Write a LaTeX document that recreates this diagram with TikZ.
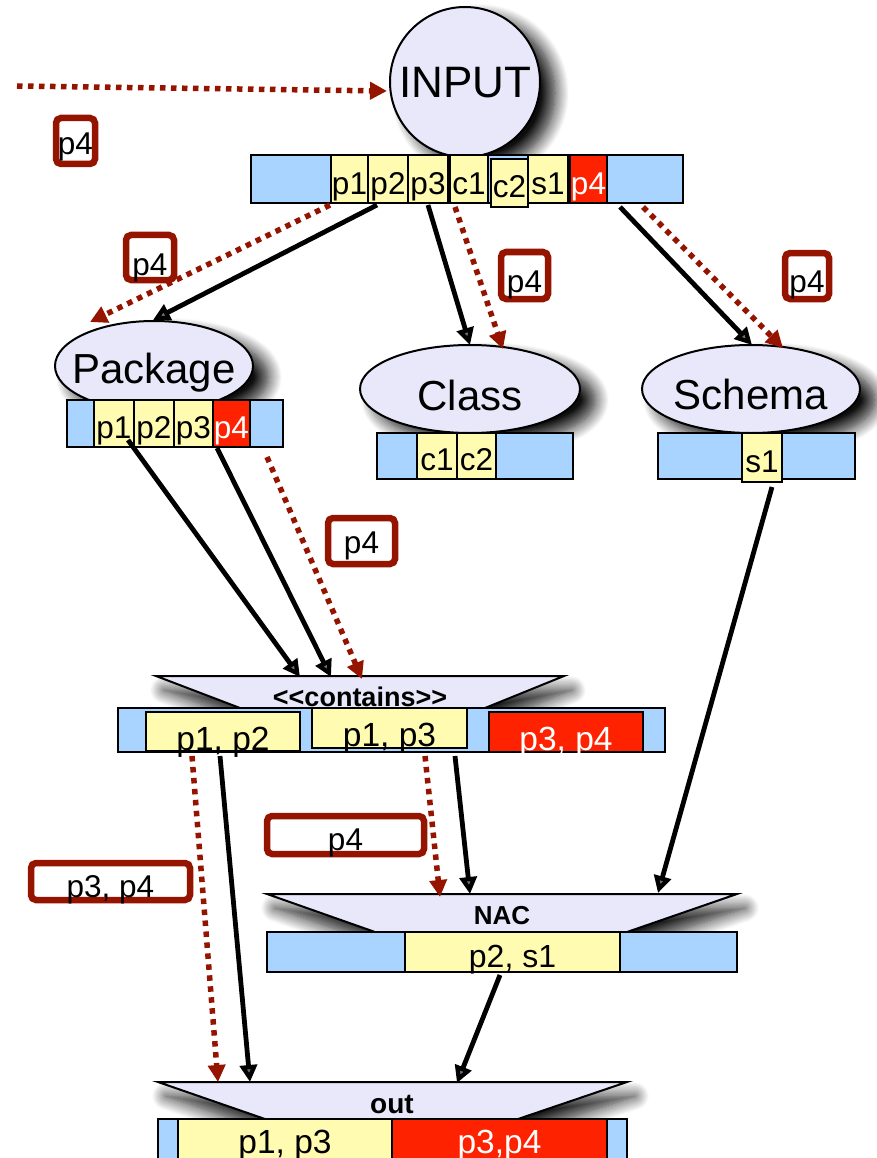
\documentclass[tikz,border=0pt]{standalone}
\usepackage{fontspec}
\setmainfont{Liberation Sans}
\usetikzlibrary{arrows.meta,shadows.blur,shapes.geometric}

\definecolor{lav}{HTML}{E8E8FA}
\definecolor{cellY}{HTML}{FFFBB0}
\definecolor{cellB}{HTML}{A8D4FF}
\definecolor{cellR}{HTML}{FF2200}
\definecolor{darkred}{HTML}{951400}

% box node given by its corners: name, x1, y1, x2, y2, style, text height, text
\newcommand\cellnode[8]{%
  \node[#6, minimum width={(#4-#2)*1pt}, minimum height={(#5-#3)*1pt},
        text height=#7pt] (#1) at ({(#2+#4)/2},{(#3+#5)/2}) {#8};}

\begin{document}
\begin{tikzpicture}[x=1pt,y=-1pt,
  fs/.style={font=\fontsize{#1}{#1}\selectfont},
  bfs/.style={font=\bfseries\fontsize{#1}{#1}\selectfont},
  bar/.style={draw=black, line width=2.2pt, fill=cellB, inner sep=0pt, text depth=0pt},
  cell/.style={draw=black, line width=1.8pt, fill=cellY, inner sep=0pt, text depth=0pt, fs=31.5},
  hot/.style={cell, fill=cellR, text=white},
  lbl/.style={draw=darkred, line width=6.5pt, rounded corners=5pt, fill=white,
              inner sep=0pt, text depth=0pt, fs=31.5},
  capc/.style={inner sep=0pt, text depth=0pt, text height=#1},
  shade/.style={blur shadow={shadow xshift=15pt, shadow yshift=-11pt,
                shadow blur radius=14pt, shadow blur steps=14, shadow opacity=95}},
  tshade/.style={blur shadow={shadow xshift=8pt, shadow yshift=-14pt,
                 shadow blur radius=14pt, shadow blur steps=14, shadow opacity=90}},
  blob/.style={draw=black, line width=2pt, fill=lav, inner sep=0pt, shade},
  trap/.style={draw=black, line width=2pt, fill=lav, line join=miter, tshade},
  flow/.style={line width=4.8pt, -{Triangle[length=17pt,width=17pt]}},
  pass/.style={darkred, line width=5.5pt, dash pattern=on 5.5pt off 5.5pt,
               -{Triangle[length=17pt,width=17pt]}},
]
\useasboundingbox (0,0) rectangle (876,1158);

% ---------- rule shapes ----------
\node[blob, circle, minimum size=150pt, fs=44, capc=31.5pt] (input) at (465,82) {INPUT};

\node[blob, ellipse, minimum width=198pt, minimum height=90pt] (pkg) at (154,366) {};
\node[fs=42, capc=30pt] (pkgname) at (154,368) {Package};

\node[blob, ellipse, minimum width=220pt, minimum height=88pt] (cls) at (470,389) {};
\node[fs=42, capc=30pt] (clsname) at (470,395) {Class};

\node[blob, ellipse, minimum width=218pt, minimum height=88pt] (sch) at (751,389) {};
\node[fs=42, capc=30pt] (schname) at (751,394) {Schema};

\path[trap] (156,676) -- (564,676) -- (485,708) -- (240,708) -- cycle;
\node[bfs=27, anchor=base] (conname) at (360,706) {<\kern0pt<contains>\kern0pt>};

\path[trap] (267,894) -- (737,894) -- (627,932) -- (375,932) -- cycle;
\node[bfs=26, anchor=base] (nacname) at (502,924) {NAC};

\path[trap] (158,1082) -- (627,1082) -- (518,1119) -- (265,1119) -- cycle;
\node[bfs=28, anchor=base] (outname) at (392,1113) {out};

% ---------- match bars ----------
\cellnode{topbar}{251}{155}{683}{203}{bar}{0}{}
\cellnode{tp1}{331}{155}{368}{203}{cell}{32}{p1}
\cellnode{tp2}{368}{155}{408}{203}{cell}{32}{p2}
\cellnode{tp3}{408}{155}{448}{203}{cell}{32}{p3}
\cellnode{tc1}{450}{155}{488}{203}{cell}{32}{c1}
\cellnode{tc2}{491}{159}{528}{207}{cell}{30}{c2}
\cellnode{ts1}{528}{155}{568}{203}{cell}{32}{s1}
\cellnode{tp4}{570}{155}{607}{203}{hot}{32}{p4}

\cellnode{pkgbar}{67}{400}{283}{447}{bar}{0}{}
\cellnode{pp1}{94}{400}{134}{447}{cell}{29}{p1}
\cellnode{pp2}{134}{400}{174}{447}{cell}{29}{p2}
\cellnode{pp3}{174}{400}{213}{447}{cell}{29}{p3}
\cellnode{pp4}{213}{400}{250}{447}{hot}{29}{p4}

\cellnode{clsbar}{377}{433}{573}{479}{bar}{0}{}
\cellnode{cc1}{417}{433}{457}{479}{cell}{28}{c1}
\cellnode{cc2}{457}{433}{496}{479}{cell}{28}{c2}

\cellnode{schbar}{658}{433}{855}{479}{bar}{0}{}
\cellnode{ss1}{742}{433}{782}{482}{cell}{29}{s1}

\cellnode{conbar}{118}{708}{665}{752}{bar}{0}{}
\cellnode{k1}{146}{712}{300}{751}{cell,fs=33.5}{37}{p1, p2}
\cellnode{k2}{312}{708}{467}{748}{cell,fs=33.5}{36}{p1, p3}
\cellnode{k3}{489}{712}{643}{752}{hot,fs=33.5}{36}{p3, p4}

\cellnode{nacbar}{267}{932}{737}{972}{bar}{0}{}
\cellnode{n1}{405}{932}{620}{972}{cell,fs=32}{30}{p2, s1}

\cellnode{outbar}{158}{1119}{627}{1175}{bar}{0}{}
\cellnode{o1}{178}{1119}{392}{1175}{cell,fs=33.5}{12}{p1, p3}
\cellnode{o2}{392}{1119}{607}{1175}{hot,fs=33.5}{12}{p3,p4}

% ---------- passed-on tags ----------
\cellnode{tag0}{56}{118}{95}{164}{lbl}{28}{p4}
\cellnode{tag1}{126}{235}{174}{280}{lbl}{35}{p4}
\cellnode{tag2}{501}{252}{548}{299}{lbl}{33}{p4}
\cellnode{tag3}{785}{253}{829}{299}{lbl}{32}{p4}
\cellnode{tag4}{328}{518}{395}{564}{lbl}{24}{p4}
\cellnode{tag5}{267}{816}{424}{854}{lbl}{30}{p4}
\cellnode{tag6}{31}{863}{190}{900}{lbl}{31}{p3, p4}

% ---------- connector ends ----------
\coordinate (src)   at (17,86);   \coordinate (inTip) at (387,91);
\coordinate (tA) at (330,205);    \coordinate (pkgR) at (90,322);
\coordinate (tB) at (377,205);    \coordinate (pkgB) at (153,320);
\coordinate (tC) at (428,205);    \coordinate (clsB) at (470,345);
\coordinate (tD) at (455,207);    \coordinate (clsR) at (503,349);
\coordinate (tE) at (620,207);    \coordinate (schB) at (752,345);
\coordinate (tF) at (643,207);    \coordinate (schR) at (783,348);
\coordinate (pA) at (128,440);    \coordinate (conB1) at (300,677);
\coordinate (pB) at (217,448);    \coordinate (conB2) at (331,677);
\coordinate (pC) at (267,457);    \coordinate (conR) at (362,679);
\coordinate (sA) at (772,487);    \coordinate (nacB2) at (658,893);
\coordinate (kA) at (192,756);    \coordinate (outR) at (218,1082);
\coordinate (kB) at (220,756);    \coordinate (outB1) at (250,1082);
\coordinate (kC) at (425,756);    \coordinate (nacR) at (440,897);
\coordinate (kD) at (455,756);    \coordinate (nacB1) at (470,894);
\coordinate (nA) at (500,975);    \coordinate (outB2) at (457,1083);

% ---------- connectors ----------
\draw[pass] (src) -- (inTip);
\draw[pass] (tA) -- (pkgR);
\draw[flow] (tB) -- (pkgB);
\draw[flow] (tC) -- (clsB);
\draw[pass] (tD) -- (clsR);
\draw[flow] (tE) -- (schB);
\draw[pass] (tF) -- (schR);
\draw[flow] (pA) -- (conB1);
\draw[flow] (pB) -- (conB2);
\draw[pass] (pC) -- (conR);
\draw[flow] (sA) -- (nacB2);
\draw[pass] (kA) -- (outR);
\draw[flow] (kB) -- (outB1);
\draw[pass] (kC) -- (nacR);
\draw[flow] (kD) -- (nacB1);
\draw[flow] (nA) -- (outB2);
\end{tikzpicture}
\end{document}
